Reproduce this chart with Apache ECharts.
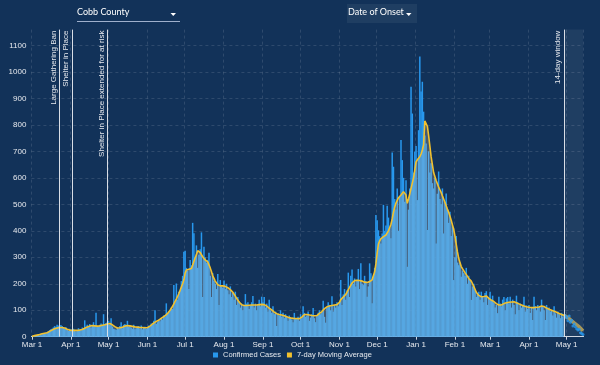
<!DOCTYPE html>
<html><head><meta charset="utf-8">
<script src="https://cdn.jsdelivr.net/npm/echarts@6/dist/echarts.min.js"></script>
<style>html,body{margin:0;padding:0;background:#123259;}#c{width:600px;height:365px;}</style>
</head><body><div id="c"></div>
<script>
// ---- data ----
const START_DATE = [2020, 2, 1]; // 1 Mar 2020 (year, monthIndex, day)
const MONTH_NAMES = ['Jan','Feb','Mar','Apr','May','Jun','Jul','Aug','Sep','Oct','Nov','Dec'];
const COUNTY = 'Cobb County';
const DATE_MODE = 'Date of Onset';
const SERIES_NAMES = ['Confirmed Cases', '7-day Moving Average'];

// daily confirmed cases, by month
const cases_2020_03 = [1,2,3,2,4,6,5,8,10,12, 14,13,18,20,25,28,30,35,40,38, 45,42,38,44,40,35,30,36,25,22, 30];
const cases_2020_04 = [28,22,30,26,20,24,32,28,25,35, 30,62,38,45,40,48,35,42,55,44, 90,40,38,45,50,42,85,48,52,55];
const cases_2020_05 = [60,45,70,38,30,28,25,35,30,40, 55,32,45,48,40,60,38,42,35,30, 45,28,32,38,40,30,42,28,35,38, 30];
const cases_2020_06 = [35,42,38,50,45,60,100,48,55,62, 58,70,65,80,75,126,88,95,100,110, 105,195,130,201,140,170,175,210,230,321];
const cases_2020_07 = [325,260,250,180,290,270,430,391,300,345, 260,310,330,394,150,340,300,280,290,317, 230,150,240,210,200,180,237,120,214,190, 185];
const cases_2020_08 = [212,180,200,175,160,190,150,165,140,170, 120,150,135,110,125,100,118,161,125,130, 105,118,130,154,110,125,100,120,140,115, 151];
const cases_2020_09 = [130,150,110,125,95,140,100,90,115,85, 95,40,88,80,100,75,90,70,85,78, 60,80,72,65,55,90,70,68,75,60];
const cases_2020_10 = [85,70,115,90,75,80,95,60,72,85, 108,70,55,80,90,100,85,95,136,75, 53,110,130,120,100,153,95,120,110,130, 115];
const cases_2020_11 = [130,214,120,160,180,140,175,242,150,230, 254,200,220,190,215,256,180,277,200,195, 230,210,151,190,277,240,126,230,260,460];
const cases_2020_12 = [440,402,380,352,390,498,400,420,495,450, 410,372,696,642,520,480,560,400,530,743, 667,600,510,591,264,480,560,944,843,620, 700];
const cases_2021_01 = [720,516,780,1058,926,963,850,760,730,403, 700,620,655,580,560,600,352,540,624,520, 500,560,390,510,541,480,430,472,380,420, 214];
const cases_2021_02 = [300,380,280,270,280,226,250,240,230,260, 200,230,215,139,190,200,175,150,160,170, 140,170,150,130,165,172,120,150];
const cases_2021_03 = [170,140,155,130,110,120,89,151,125,115, 140,150,100,145,150,125,151,110,140,120, 85,155,130,100,125,110,120,151,95,118, 105];
const cases_2021_04 = [120,90,110,63,151,115,100,120,113,95, 140,113,100,63,120,105,110,95,98,80, 115,88,72,95,85,70,90,75,80,78];
const cases_2021_05 = [72,60,78,55,62,40,48,38,30,25,28,15,12,8];

// 7-day moving average, by month
const ma_2020_03 = [2,3,4,5,6,7,8,10,11,12, 13,14,15,18,20,22,25,28,30,31, 33,34,35,35,35,34,33,31,28,26, 25];
const ma_2020_04 = [25,24,24,24,24,24,25,25,26,27, 30,32,35,37,39,40,42,42,41,41, 40,40,40,41,42,43,44,45,47,48];
const ma_2020_05 = [50,50,47,45,42,38,35,33,33,34, 35,36,38,40,41,42,42,41,40,39, 38,37,36,36,35,35,35,35,34,34, 34];
const ma_2020_06 = [35,37,40,44,48,52,55,57,60,63, 66,70,73,76,79,83,88,94,100,107, 115,124,133,142,152,163,175,188,200,215];
const ma_2020_07 = [240,252,254,255,256,258,270,285,298,310, 325,322,318,310,302,296,290,287,283,280, 260,245,230,220,210,203,196,194,192,192, 192];
const ma_2020_08 = [191,190,188,185,181,178,174,168,161,153, 145,138,131,125,121,119,118,118,118,119, 119,120,120,120,120,120,120,121,121,122, 122];
const ma_2020_09 = [122,121,119,116,112,108,105,101,97,93, 89,87,85,84,83,82,81,79,77,75, 73,72,71,70,70,69,69,69,68,68];
const ma_2020_10 = [70,74,80,84,85,84,83,82,81,80, 79,79,78,80,84,88,91,95,100,106, 111,113,115,116,117,118,119,120,120,121, 124];
const ma_2020_11 = [130,140,145,150,155,160,168,178,186,195, 203,210,212,213,213,212,212,212,210,208, 206,205,205,206,208,210,215,220,245,275];
const ma_2020_12 = [315,350,362,370,374,378,381,384,392,400, 412,425,445,470,490,505,515,525,530,535, 542,548,545,535,504,520,540,560,580,600, 630];
const ma_2021_01 = [660,668,675,680,690,705,725,815,820,795, 760,720,680,650,620,605,590,578,565,555, 545,532,520,508,495,482,470,455,440,422, 405];
const ma_2021_02 = [380,350,320,295,280,265,257,250,242,235, 228,220,215,210,200,190,179,168,162,156, 153,151,151,152,153,154,150,145];
const ma_2021_03 = [141,138,135,133,129,125,122,120,120,120, 122,125,127,128,129,130,131,131,131,132, 131,128,126,124,122,120,118,116,115,113, 112];
const ma_2021_04 = [111,110,110,110,110,111,111,112,112,114, 116,115,114,111,108,106,104,102,100,98, 96,94,92,90,88,86,84,82,80,78];
const ma_2021_05 = [75,72,68,64,60,56,52,48,45,41,37,32,27,22];

// annotations
const ANNOTATION_LABELS = ['Large Gathering Ban', 'Shelter in Place', 'Shelter in Place extended for at risk', '14-day window'];
const ANNOTATION_DATES = ['2020-03-23', '2020-04-02', '2020-04-30', '2021-04-29'];
const WINDOW_START = '2021-04-29';
const Y_MAX = 1160, Y_STEP = 100;

// ---- build ----
const cases = [].concat(cases_2020_03, cases_2020_04, cases_2020_05, cases_2020_06, cases_2020_07, cases_2020_08,
  cases_2020_09, cases_2020_10, cases_2020_11, cases_2020_12, cases_2021_01, cases_2021_02, cases_2021_03, cases_2021_04, cases_2021_05);
const ma = [].concat(ma_2020_03, ma_2020_04, ma_2020_05, ma_2020_06, ma_2020_07, ma_2020_08,
  ma_2020_09, ma_2020_10, ma_2020_11, ma_2020_12, ma_2021_01, ma_2021_02, ma_2021_03, ma_2021_04, ma_2021_05);
function pad(n){ return (n < 10 ? '0' : '') + n; }
const dates = cases.map((_, i) => {
  const d = new Date(Date.UTC(START_DATE[0], START_DATE[1], START_DATE[2] + i));
  return d.getUTCFullYear() + '-' + pad(d.getUTCMonth() + 1) + '-' + pad(d.getUTCDate());
});
const wIdx = dates.indexOf(WINDOW_START);
const barData = cases.map((v, i) => i < wIdx ? v : null);
const dotData = cases.map((v, i) => i >= wIdx ? v : null);
const maMain = ma.map((v, i) => i <= wIdx ? v : null);
const maWin = ma.map((v, i) => i >= wIdx ? v : null);

const isMonthStart = (idx, val) => (val || dates[idx]).slice(8) === '01';
const FONT = 'Liberation Sans';
const BLUE = '#2898ee', YELLOW = '#f2c12e';

const chart = echarts.init(document.getElementById('c'), null, {renderer: 'canvas', width: 600, height: 365});
chart.setOption({
  animation: false,
  backgroundColor: '#123259',
  textStyle: {fontFamily: FONT},
  grid: {left: 31.4, right: 16.4, top: 29.6, bottom: 28.3},
  legend: {
    data: SERIES_NAMES, left: 208, bottom: 1, icon: 'rect', itemWidth: 5, itemHeight: 5, itemGap: 6,
    textStyle: {color: '#e6e9ee', fontSize: 7.5, fontFamily: FONT}
  },
  xAxis: {
    type: 'category', data: dates, boundaryGap: true,
    axisLine: {lineStyle: {color: '#cfd6e0', width: 1}},
    axisTick: {show: true, interval: isMonthStart, alignWithLabel: true, length: 3, lineStyle: {color: '#cfd6e0'}},
    axisLabel: {
      interval: isMonthStart, color: '#e6e9ee', fontSize: 8, margin: 4, fontFamily: FONT,
      formatter: v => MONTH_NAMES[+v.slice(5, 7) - 1] + ' ' + (+v.slice(8))
    },
    splitLine: {show: true, interval: isMonthStart, lineStyle: {color: 'rgba(255,255,255,0.12)', type: [3, 3]}}
  },
  yAxis: {
    type: 'value', min: 0, max: Y_MAX, interval: Y_STEP,
    axisLine: {show: false}, axisTick: {show: false},
    axisLabel: {color: '#e6e9ee', fontSize: 8, margin: 5, showMaxLabel: false, fontFamily: FONT, formatter: v => String(v)},
    splitLine: {show: true, showMaxLine: false, lineStyle: {color: 'rgba(255,255,255,0.12)', type: [3, 3]}}
  },
  series: [
    {
      name: SERIES_NAMES[0], type: 'bar', data: barData, barWidth: 1.5, z: 1,
      itemStyle: {color: BLUE}
    },
    {
      name: 'ma-area', type: 'line', data: maMain, z: 2, symbol: 'none', silent: true,
      lineStyle: {width: 0}, areaStyle: {color: 'rgba(229,215,189,0.35)', origin: 'start'}
    },
    {
      name: 'window-cases', type: 'scatter', data: dotData, z: 3, symbolSize: 3, silent: true,
      itemStyle: {color: BLUE}
    },
    {
      name: 'ma-window', type: 'line', data: maWin, z: 3, symbol: 'none', silent: true,
      lineStyle: {width: 3.5, color: 'rgba(214,180,86,0.75)'},
      markArea: {silent: true, itemStyle: {color: 'rgba(255,255,255,0.06)'},
        data: [[{xAxis: wIdx}, {xAxis: dates.length - 1}]]}
    },
    {
      name: SERIES_NAMES[1], type: 'line', data: maMain, z: 4, symbol: 'none',
      itemStyle: {color: YELLOW}, lineStyle: {width: 1.6, color: YELLOW},
      markLine: {
        silent: true, symbol: 'none',
        lineStyle: {color: '#d9dee6', width: 1, type: 'solid'},
        label: {position: 'insideEndTop', color: '#e6e9ee', fontSize: 8, fontFamily: FONT, distance: [1, 2], formatter: '{b}'},
        data: ANNOTATION_DATES.map((d, k) => ({name: ANNOTATION_LABELS[k], xAxis: d}))
      }
    }
  ],
  graphic: [
    {type: 'text', left: 77, top: 8, style: {text: COUNTY, fill: '#ffffff', fontSize: 9, fontFamily: 'Lato'}},
    {type: 'line', shape: {x1: 77, y1: 21.5, x2: 180, y2: 21.5}, style: {stroke: '#9fb0cc', lineWidth: 1}},
    {type: 'polygon', shape: {points: [[170.5, 13], [176, 13], [173.25, 16]]}, style: {fill: '#ffffff'}},
    {type: 'rect', shape: {x: 347, y: 4, width: 70, height: 19}, style: {fill: 'rgba(255,255,255,0.06)'}},
    {type: 'text', left: 348, top: 8, style: {text: DATE_MODE, fill: '#ffffff', fontSize: 9, fontFamily: 'Lato'}},
    {type: 'polygon', shape: {points: [[406, 13], [411.5, 13], [408.75, 16]]}, style: {fill: '#ffffff'}}
  ]
});
</script></body></html>
